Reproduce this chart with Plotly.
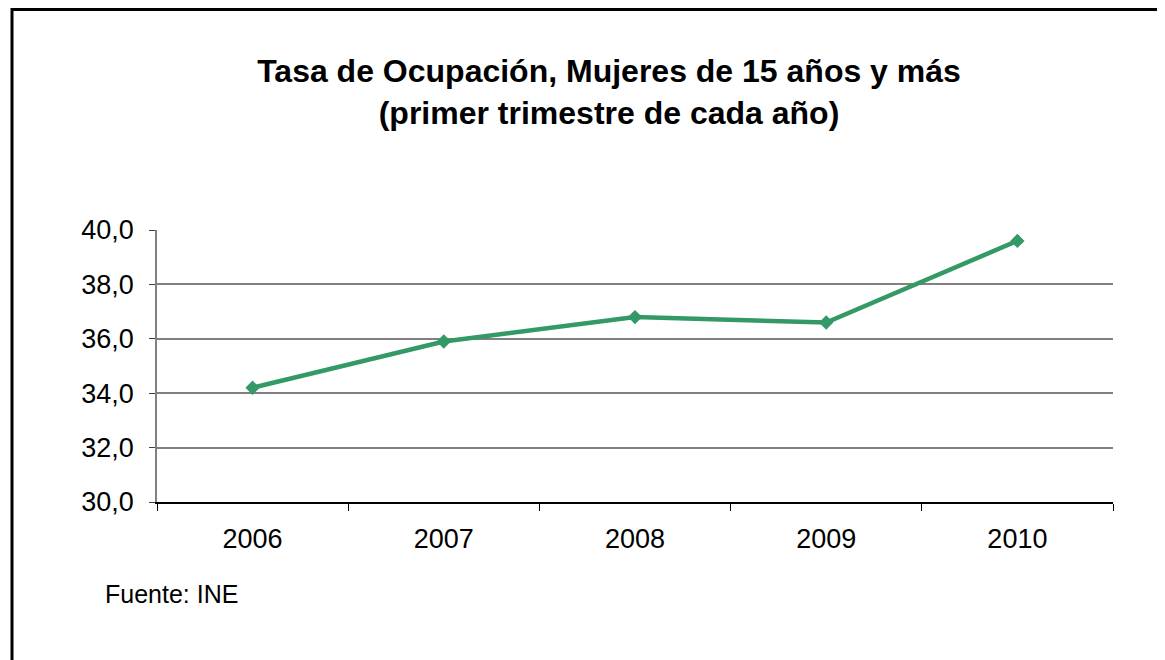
import plotly.graph_objects as go

# Tasa de ocupación femenina (15 años y más), primer trimestre
years = ["2006", "2007", "2008", "2009", "2010"]
tasa = [34.2, 35.9, 36.8, 36.6, 39.6]

y_ticks = [30, 32, 34, 36, 38, 40]
grid_vals = [32, 34, 36, 38]

# the page body has an 8px margin, so the figure is shifted by that much
OFF = 8
W, H = 1165 - OFF, 660 - OFF
L, R, T, B = 157 - OFF, 52, 230 - OFF, 158
pw, ph = W - L - R, H - T - B


def px_x(x):
    return (x - OFF - L) / pw


def px_y(y):
    return (H - B - (y - OFF)) / ph


fig = go.Figure()

fig.add_trace(go.Scatter(
    x=years,
    y=tasa,
    mode="lines+markers",
    line=dict(color="#339966", width=4.5),
    marker=dict(symbol="diamond", size=11, color="#339966"),
    showlegend=False,
    hoverinfo="x+y",
))

fig.update_layout(
    width=W,
    height=H,
    margin=dict(l=L, r=R, t=T, b=B),
    paper_bgcolor="white",
    plot_bgcolor="white",
    separators=",.",
    font=dict(family="Liberation Sans, Arial, sans-serif", color="black"),
    title=dict(
        text="Tasa de Ocupación, Mujeres de 15 años y más<br>(primer trimestre de cada año)",
        x=(609 - OFF) / W,
        xanchor="center",
        y=1 - (82 - OFF) / H,
        yanchor="middle",
        font=dict(size=32, weight="bold", color="black"),
    ),
    xaxis=dict(
        type="category",
        tickson="boundaries",
        ticks="outside",
        ticklen=7,
        tickwidth=1,
        tickcolor="black",
        showline=True,
        linecolor="black",
        linewidth=1.5,
        showgrid=False,
        tickfont=dict(size=27),
        ticklabelstandoff=12,
        range=[-0.5, 4.5],
        zeroline=False,
    ),
    yaxis=dict(
        range=[30, 40],
        tickvals=y_ticks,
        tickformat=".1f",
        ticks="outside",
        ticklen=6,
        tickwidth=1,
        tickcolor="#404040",
        showline=True,
        linecolor="#808080",
        linewidth=1.5,
        showgrid=False,
        zeroline=False,
        tickfont=dict(size=27),
        ticklabelstandoff=10,
        minor=dict(tickvals=grid_vals, showgrid=True, gridcolor="#808080",
                   gridwidth=1.5, ticks=""),
    ),
    annotations=[
        dict(
            text="Fuente: INE",
            xref="paper", yref="paper",
            x=px_x(103), y=px_y(594),
            xanchor="left", yanchor="middle",
            showarrow=False,
            font=dict(size=25, color="black"),
        )
    ],
    shapes=[
        dict(
            type="rect",
            xref="paper", yref="paper",
            x0=px_x(12), y0=px_y(720),
            x1=px_x(1200), y1=px_y(9.5),
            line=dict(color="black", width=3),
            fillcolor="rgba(0,0,0,0)",
            layer="above",
        )
    ],
)

fig.write_html("out.html")
